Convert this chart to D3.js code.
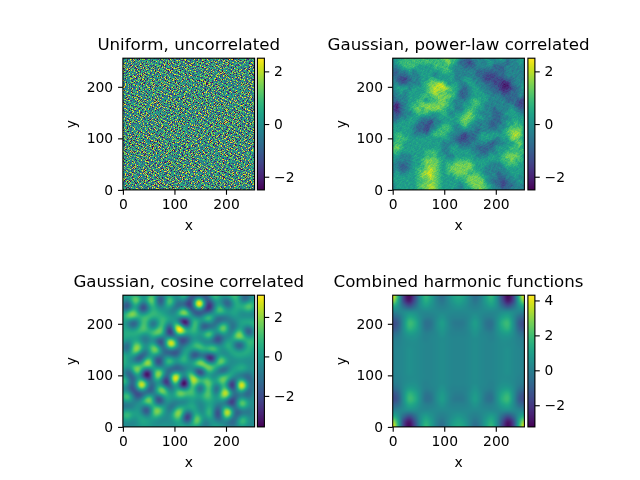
<!DOCTYPE html>
<html>
<head>
<meta charset="utf-8">
<script src="https://cdn.jsdelivr.net/npm/d3@7"></script>
<style>
html,body{margin:0;padding:0;background:#fff;}
#wrap{position:relative;width:640px;height:480px;overflow:hidden;}
canvas,svg{position:absolute;left:0;top:0;}
text{font-family:"DejaVu Sans",sans-serif;fill:#000;}
</style>
</head>
<body>
<div id="wrap"><canvas id="fields" width="640" height="480"></canvas><svg id="chart" width="640" height="480"></svg></div>
<script>
const titles = ["Uniform, uncorrelated","Gaussian, power-law correlated","Gaussian, cosine correlated","Combined harmonic functions"];
const axisTicks = [0,100,200];
const barTicks = [[-2,0,2],[-2,0,2],[-2,0,2],[-2,0,2,4]];
const barRanges = [[-2.5,2.5],[-2.5,2.5],[-3.57,3.1],[-3.24,4.3]];

// Uncorrelated field, one digit per cell, 0 = lowest level, 9 = highest.
const uniformRows = [
"473958261746593048275619374285960314756428193576402981365740289563",
"615342897063542719485306274915683402719345628047391562843095176348",
"359407162854937260148573692041735896213470685923714056839124567034",
"846213579340628195734962508137426859073614382950467183529640371825",
"207695438126743905281634759082314675948230961574382061947352860413",
"594381076452918637045729163854067392185746203859136470285913746250",
"138760925347205486913850374269418527630149756382904573168402957361",
"762549310864931752086417593240658179342507186943520768391467025894",
"450318697215684039725963814706392541860723495106847352096138472563",
"983627140593076281549102736458271063954819360274598631740526183790",
"326175849062431958706248391570964328517360892146305784921053647258",
"671495028376859140362907581423061847295534178960723419586240391765",
"508263914783126597430186275394782560139428605371964280743159620847",
"294816375409562381974530816262950374186746293058417360529873146035",
"735140682951378064252873940615439610827150864279356148207695423918",
"160529743682490751836154279038612785493927301546082973814356780264",
"847362915034716285960741358296504316872468159307254681936012549371",
"413098526791253640817369024578193745206735091842360518479263870156",
"592674301848960172453028196743827061954102746385921746305187649203",
"286415790325847309619574830162046539718596423078543092861734512869",
"730951268446132857094268175930581720346781905362476815029563981427",
"164837520972605943186395047218693245870243658197308264751980346512",
"925240683714289160573841296063527018469510372846195730624158073946",
"378516049268473915208956713482014963725869140572638409275391560148",
"641092785320951687342107568394768251039427685013259146872630419875",
"259783416057346208951463820576192834570618392764081539406278135360",
"807436152984617530429708361295354079268135749206873265914057482691",
"136958240675082941763529408617846320951792064538219740386125670934",
"482307195623759168204871935046290718346450287913568462053971264785",
"795164830241368507916342687153780954123968531046792381647205819503",
"320849671508294736851065249387516230794273680152034956718463290478",
"658271043917485320697483016728941367058146902783461528950317542869",
"914603528762031894256739580164238095617530274869105783246892061357",
"273586190434976152087614325908673451289065839142786340195476308921",
"506892347120845769312950746385102786934721450398642917528034165786",
"841357069653217048496238157062495310867389126574013569742801693245",
"197420856389564701235817603984736952041256798310452876039164587320",
"625078914236098351740462981537184620359043517829667310294756182403",
"368945102675421897036159274806529173486921360547983024516783490612",
"750216483909735216842705369142068597213687042953142786305921746038",
"412593768024186507957348120683751409626304951786520491867340259175",
"986730415263947025183694517230862345798415270634178952036417863592",
"234168907582310694726501843976145067328596183407835260149528730416",
"579402631847652839014287956314703928154067392581406793825169042763",
"043817295160974361582913607485296471830724685193257041968375214089",
"718265409337501842696340782591850362947182530964812356470923687154",
"395640172984236715083765129408317594062569417203968417253081946327",
"860927354107489263541092836750642185793315860472139605784246109578",
"127534896240615798327648015396974203581740236985047312965038571462",
"654083217958372140869231756084315867920486193562780459123697340815",
"289716540365948027613495682137028496351627504891306874295164783026",
"431958672014653829705162394860547132689053278416592037681249560374",
"076245389721190568342876103549283760415938641207435896307152984653",
"913680254476827391056304782915671428036172950864218063574906321748",
"548327106892534670219958467230146985273806413759620184735281690423",
"265091743615049382678413925067892351604527186304975326108643759812",
"702864519238761054933607248591305476189346072581239465861027943567",
"387152960474296813065782139406458203796015824937106758243596018234",
"159436728063518947421905673284761390528463791056842319674280536971",
"624870315896042375186349207513982674103785629348507162938415207648",
"481307569237659014872160835429036158746921305674198230756341892560",
"936542180714283967503748291065547209318604582137964085123976450318",
"270198634580935126647213508976421836950278314695023748661854307292",
"543769021468104759382695140237893605172436980215476392807140563986",
"818025473936472685109534762801325741896057243680915267349768102435",
"365194802751380296474820951643076582914369507124836051572319486079"
];

// Power-law correlated field on a coarse grid, digits as above.
const powerLawRows = [
"45566666666677664334445445544455","45666666666667653323444544434454",
"44566655556666544333444433344445","33445455555566544444333333344444",
"33334445554555544444332223344444","43223445566555544554432222233444",
"44334445677875554455443322113445","45554555678887654345544332112345",
"44545555678776653345554433223344","34445556667777653345555444333343",
"33445566566776544456655444433322","21345667777776544556654444444322",
"21345676777765544566554434445433","32344566655565455676544433455544",
"33445554444555556776554433445555","44555543324455556765444333455655",
"55555433234566545654444334456665","55555433245666544444344444567775",
"56655444456665443233455555567875","56665555555555432233455544557765",
"66655555555544443334444334455675","67655555555544554444333345556665",
"66555555666544555554433445566666","55444555666554455555444555677765",
"54444556777655566665555555667665","44334556777656677776555444566655",
"44334566787656777776554444455555","45445567887656677766654443445555",
"55555567787655566677765443344545","55555566777655555677775433234454",
"45555567787655554567776543233444","45555566787655544556776544334444"
];

// Extrema of the cosine correlated field: position in data units and signed height.
const cosinePeakX = [148,109,94,102,36,230,149,166,26,119,17,195,166,27,63,47,27,8,50,71,76,111,134,199,231,203,145,8,63,231,244,189,150,173,224,166,186,92,56,118,176,108,170,92,115,231,5,
  119,119,150,150,125,72,8,40,59,21,8,34,47,14,71,47,212,182,226,244,160,205,237,142,170,182,212,85,195,92,69,47,124,184,176,92,147,14,69];
const cosinePeakY = [239,190,162,94,81,81,123,117,246,221,218,192,180,153,151,125,107,60,53,101,72,66,94,65,45,27,14,23,30,13,234,127,154,150,177,211,226,244,247,253,253,26,26,127,129,112,88,
  203,85,107,75,19,246,234,231,198,201,153,133,104,104,52,32,81,75,159,185,195,240,250,141,133,26,52,88,110,190,166,175,166,169,97,39,52,130,127];
const cosinePeakHeight = [5.0,3.3,3.8,3.0,3.8,3.6,1.7,1.7,1.4,1.8,1.4,2.2,1.4,1.4,1.7,1.8,1.6,1.7,1.6,1.5,1.5,1.6,0.8,1.7,1.5,3.0,1.7,1.4,1.4,1.6,1.4,1.7,1.5,1.5,1.4,1.5,1.5,1.4,1.3,1.4,1.4,1.4,1.4,1.4,1.2,1.0,1.2,
  -3.0,-3.0,-1.8,-2.2,-2.2,-1.5,-1.5,-1.5,-1.8,-1.5,-1.6,-1.5,-2.0,-1.4,-1.9,-1.7,-1.9,-1.5,-1.9,-2.0,-1.5,-1.6,-1.5,-1.5,-1.6,-1.5,-1.4,-1.2,-1.6,-1.6,-1.4,-1.2,-1.2,-1.2,-1.2,-1.2,-1.0,-1.0,-1.2];
const cosineWavelength = 46;
const cosineEnvelope = 17;
const cosineGain = 0.62;

// Upper-left quarter of the harmonic field; the other three quarters are its reflections.
const harmonicQuarter = [
[4.2,1.6,-1.8,-3,-1.7,0.4,1.7,1,0,-0.5,0.2,1,1.3],
[3.2,1.2,-1.6,-2.7,-1.4,0.4,1.4,0.9,0.1,-0.3,0.2,0.8,1.1],
[1.4,0.6,-0.6,-1.3,-0.6,0.4,0.9,0.6,0.2,0,0.2,0.5,0.7],
[0.1,0.2,0.3,0.4,0.4,0.3,0.3,0.3,0.3,0.3,0.3,0.3,0.3],
[-0.8,-0.5,0.4,1.2,1,0.4,0,0,0.3,0.6,0.3,0.1,0.1],
[-1.5,-1,0.5,1.8,1.5,0.5,-0.4,-0.3,0.4,0.9,0.4,-0.1,-0.2],
[-1.3,-0.8,0.5,1.6,1.3,0.5,-0.3,-0.2,0.4,0.8,0.4,0,-0.1],
[-0.6,-0.3,0.4,0.9,0.8,0.4,0,0.1,0.3,0.6,0.3,0.1,0.1],
[-0.1,0,0.3,0.5,0.5,0.3,0.1,0.2,0.3,0.4,0.3,0.2,0.2],
[0,0.1,0.3,0.4,0.4,0.3,0.2,0.2,0.3,0.4,0.3,0.2,0.2],
[0.1,0.2,0.3,0.5,0.4,0.3,0.2,0.2,0.3,0.4,0.3,0.2,0.2],
[0.1,0.2,0.3,0.5,0.4,0.3,0.2,0.2,0.3,0.4,0.3,0.2,0.2],
[0.1,0.2,0.3,0.5,0.4,0.3,0.2,0.2,0.3,0.4,0.3,0.2,0.2]
];

// Digit rows become numeric grids spanning the colour range of their panel.
const fromDigits = (rows, range) => {
  const level = d3.scaleLinear().domain([0, 9]).range(range);
  return rows.map(r => Array.from(r, ch => level(+ch)));
};
const reflectColumns = g => g.map(r => r.concat(r.slice(0, -1).reverse()));
const harmonicGrid = (() => {
  const top = reflectColumns(harmonicQuarter);
  return top.concat(top.slice(0, -1).reverse());
})();

const uniformGrid = fromDigits(uniformRows, barRanges[0]);
const powerLawGrid = fromDigits(powerLawRows, barRanges[1]);

// Pixel boxes of the four image axes and their colour bars.
const boxes = [
  {l:122.9,r:254.6,t:58.2,b:189.9,cl:257.4,cr:264.4},
  {l:392.7,r:524.4,t:58.2,b:189.9,cl:527.9,cr:534.9},
  {l:122.9,r:254.6,t:295.2,b:426.9,cl:257.4,cr:264.4},
  {l:392.7,r:524.4,t:295.2,b:426.9,cl:527.9,cr:534.9}
];

const ctx = document.getElementById("fields").getContext("2d");
const svg = d3.select("#chart");

const catmull = (a, b, c, d, t) =>
  0.5 * (2*b + (c-a)*t + (2*a-5*b+4*c-d)*t*t + (3*b-a-3*c+d)*t*t*t);

function smoothAt(grid, u, v) {
  const n = grid.length, m = grid[0].length;
  const fx = u*(m-1), fy = v*(n-1);
  const ix = Math.min(m-2, Math.floor(fx)), iy = Math.min(n-2, Math.floor(fy));
  const tx = fx-ix, ty = fy-iy;
  const at = (r, c) => {
    const row = grid[Math.max(0, Math.min(n-1, r))];
    return row[Math.max(0, Math.min(row.length-1, c))];
  };
  const col = [];
  for (let j = -1; j <= 2; j++)
    col.push(catmull(at(iy+j, ix-1), at(iy+j, ix), at(iy+j, ix+1), at(iy+j, ix+2), tx));
  return catmull(col[0], col[1], col[2], col[3], ty);
}

// The noise table is read at one cell per screen pixel; each wrap is shifted.
function cellAt(i, j) {
  const n = uniformGrid.length;
  const row = uniformGrid[(j + 29*Math.floor(i/n)) % n];
  return row[(i + 23*Math.floor(j/n)) % row.length];
}
// Screen pixels average several cells of the finer field beneath them.
const uniformAt = (i, j) => 0.52*(cellAt(i, j) + cellAt(i+41, j+17) + cellAt(i+13, j+53));
const grainAt = (i, j) => 0.25*(cellAt(i, j) + cellAt(i+1, j) + cellAt(i, j+1) + cellAt(i+37, j+11));

const samplers = [
  (u, v, i, j) => uniformAt(i, j),
  (u, v, i, j) => smoothAt(powerLawGrid, u, v) + 0.2*grainAt(i, j),
  (u, v) => {
    const dx = u*255.5, dy = (1-v)*255.5;
    let s = 0;
    for (let p = 0; p < cosinePeakX.length; p++) {
      const ax = dx-cosinePeakX[p], ay = dy-cosinePeakY[p];
      const r2 = ax*ax+ay*ay;
      if (r2 > 3600) continue;
      s += cosinePeakHeight[p]*Math.cos(2*Math.PI*Math.sqrt(r2)/cosineWavelength)*Math.exp(-0.5*r2/(cosineEnvelope*cosineEnvelope));
    }
    return cosineGain*s;
  },
  (u, v) => smoothAt(harmonicGrid, u, v)
];

function putPixel(img, w, x, y, colour) {
  const c = d3.rgb(colour), i = (y*w + x)*4;
  img.data[i] = c.r; img.data[i+1] = c.g; img.data[i+2] = c.b; img.data[i+3] = 255;
}

const fmt = d => String(d).replace("-", "\u2212");
const TICK = 4.86, PAD = 4.86, LW = 1.11, FS = 13.89;

function styleAxis(g) {
  g.selectAll("path.domain").remove();
  g.selectAll(".tick line").attr("stroke", "#000").attr("stroke-width", LW);
  g.selectAll("text").style("font-size", FS + "px").style("font-family", '"DejaVu Sans"').attr("fill", "#000");
}

boxes.forEach((b, k) => {
  const x = d3.scaleLinear().domain([0, 255.5]).range([b.l, b.r]);
  const y = d3.scaleLinear().domain([0, 255.5]).range([b.b, b.t]);
  const bar = d3.scaleLinear().domain(barRanges[k]).range([b.b, b.t]);
  const colour = d3.scaleSequential(d3.interpolateViridis).domain(barRanges[k]).clamp(true);

  // Field image
  const px0 = Math.round(b.l), px1 = Math.round(b.r), py0 = Math.round(b.t), py1 = Math.round(b.b);
  const img = ctx.createImageData(px1-px0, py1-py0);
  for (let py = py0; py < py1; py++) {
    for (let px = px0; px < px1; px++) {
      const u = x.invert(px+0.5)/255.5, v = 1 - y.invert(py+0.5)/255.5;
      const val = samplers[k](Math.max(0, Math.min(1, u)), Math.max(0, Math.min(1, v)), px-px0, py-py0);
      putPixel(img, px1-px0, px-px0, py-py0, colour(val));
    }
  }
  ctx.putImageData(img, px0, py0);

  // Colour bar
  const cx0 = Math.round(b.cl), cx1 = Math.round(b.cr);
  for (let py = py0; py < py1; py++) {
    ctx.fillStyle = colour(bar.invert(py+0.5));
    ctx.fillRect(cx0, py, cx1-cx0, 1);
  }

  const panel = svg.append("g");

  panel.append("g").attr("transform", `translate(0,${b.b})`)
    .call(d3.axisBottom(x).tickValues(axisTicks).tickSize(TICK).tickPadding(PAD).tickFormat(fmt))
    .call(styleAxis);
  panel.append("g").attr("transform", `translate(${b.l},0)`)
    .call(d3.axisLeft(y).tickValues(axisTicks).tickSize(TICK).tickPadding(PAD).tickFormat(fmt))
    .call(styleAxis);
  panel.append("g").attr("transform", `translate(${b.cr},0)`)
    .call(d3.axisRight(bar).tickValues(barTicks[k]).tickSize(TICK).tickPadding(PAD).tickFormat(fmt))
    .call(styleAxis);

  panel.append("rect").attr("x", b.l).attr("y", b.t).attr("width", b.r-b.l).attr("height", b.b-b.t)
    .attr("fill", "none").attr("stroke", "#000").attr("stroke-width", LW);
  panel.append("rect").attr("x", b.cl).attr("y", b.t).attr("width", b.cr-b.cl).attr("height", b.b-b.t)
    .attr("fill", "none").attr("stroke", "#000").attr("stroke-width", LW);

  const mid = (b.l+b.r)/2;
  panel.append("text").attr("x", mid).attr("y", b.t-8.5).attr("text-anchor", "middle")
    .style("font-size", "16.67px").text(titles[k]);
  panel.append("text").attr("x", mid).attr("y", b.b+40).attr("text-anchor", "middle")
    .style("font-size", FS + "px").text("x");
  panel.append("text").attr("transform", `translate(${b.l-46.5},${(b.t+b.b)/2}) rotate(-90)`)
    .attr("text-anchor", "middle").style("font-size", FS + "px").text("y");
});
</script>
</body>
</html>
